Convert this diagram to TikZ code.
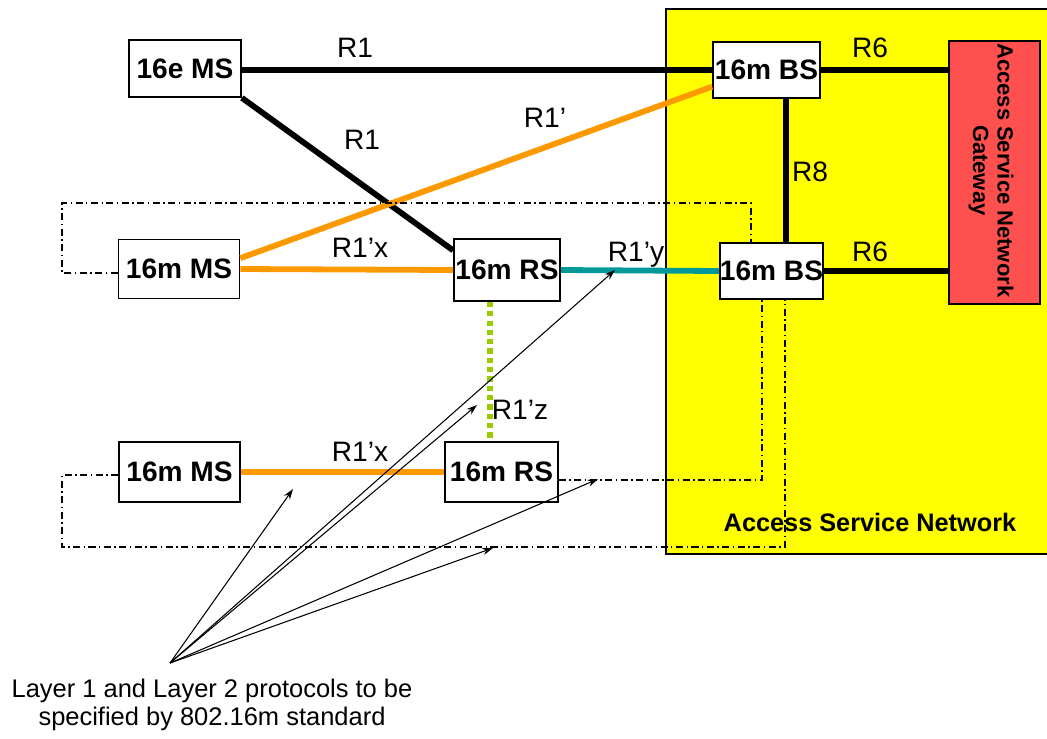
\documentclass[tikz,border=0pt]{standalone}
\usepackage{fontspec}
\setmainfont{Liberation Sans}
\definecolor{asnYellow}{HTML}{FFFF00}
\definecolor{asnRed}{HTML}{FF5050}
\definecolor{linkOrange}{HTML}{FF9900}
\definecolor{linkTeal}{HTML}{009999}
\definecolor{linkGreen}{HTML}{99CC00}
\usetikzlibrary{calc,arrows.meta}

\begin{document}
\begin{tikzpicture}[x=0.02cm, y=-0.02cm,
  station/.style={draw, fill=white, line width=1pt, inner sep=0pt,
    font=\fontsize{16}{18}\selectfont\bfseries},
  blacklink/.style={line width=3.3pt},
  orangelink/.style={line width=3.3pt, draw=linkOrange},
  radiolabel/.style={font=\fontsize{16}{18}\selectfont},
  dashdot/.style={line width=0.7pt, dash pattern=on 4pt off 2pt on 0.8pt off 2pt},
  pointer/.style={line width=0.6pt, -{Stealth[length=6pt,width=4pt]}}]
  \useasboundingbox (0,0) rectangle (1047,738);

  % ASN
  \fill[asnYellow] (666,9) rectangle (1047,554);
  \draw[line width=1pt] (1047,9) -- (666,9) -- (666,554) -- (1047,554);
  \node[font=\fontsize{14.4}{16}\selectfont\bfseries] (asnlabel) at (870,522) {Access Service Network};

  % Stations
  \node[station, minimum width=2.24cm, minimum height=1.14cm] (ems) at (185,68.5) {16e MS};
  \node[station, minimum width=2.14cm, minimum height=1.12cm] (bstop) at (766.5,70) {16m BS};
  \node[station, minimum width=2.42cm, minimum height=1.18cm] (msmid) at (179,269) {16m MS};
  \node[station, minimum width=2.12cm, minimum height=1.24cm] (rsmid) at (507,270) {16m RS};
  \node[station, minimum width=1.94cm, minimum height=1.12cm] (bsmid) at (771.5,271) {16m BS};
  \node[station, minimum width=2.42cm, minimum height=1.20cm] (msbot) at (179.5,472) {16m MS};
  \node[station, minimum width=2.26cm, minimum height=1.20cm] (rsbot) at (501.5,472) {16m RS};

  % Gateway
  \node[draw, fill=asnRed, line width=1pt, minimum width=1.82cm, minimum height=5.26cm] (gw) at (994.5,172.5) {};
  \node[rotate=-90, anchor=west, inner sep=0pt, align=center,
    font=\fontsize{12.5}{14}\selectfont\bfseries] (gwlabel) at (991,43)
    {Access Service Network\\Gateway};

  % Links
  \draw[blacklink] (ems.east |- bstop.west) -- (bstop.west);
  \draw[blacklink] (ems.south east) -- (rsmid.160);
  \draw[orangelink] (msmid.10) -- (bstop.197);
  \draw[blacklink] ([xshift=0.39cm]bstop.south) -- ([xshift=0.39cm]bstop.south |- bsmid.north);
  \draw[blacklink] (bstop.east) -- (bstop.east -| gw.west);
  \draw[blacklink] (bsmid.east) -- (bsmid.east -| gw.west);
  \draw[orangelink] (msmid.east) -- (rsmid.west);
  \draw[line width=3.3pt, draw=linkTeal] (rsmid.east) -- (bsmid.west);
  \draw[line width=3.4pt, draw=linkGreen, dash pattern=on 3pt off 2.3pt]
    ([xshift=-0.34cm]rsmid.south) -- ([xshift=-0.34cm]rsmid.south |- rsbot.north);
  \draw[orangelink] (msbot.east) -- (rsbot.west);

  % Link labels
  \node[radiolabel] (lr1a) at (355,48) {R1};
  \node[radiolabel] (lr1b) at (362,140) {R1};
  \node[radiolabel] (lr1p) at (545,118) {R1’};
  \node[radiolabel] (lr6a) at (870,48) {R6};
  \node[radiolabel] (lr6b) at (870,252) {R6};
  \node[radiolabel] (lr8) at (810,172) {R8};
  \node[radiolabel] (lr1xa) at (360,248) {R1’x};
  \node[radiolabel] (lr1y) at (636,255) {R1’y};
  \node[radiolabel] (lr1z) at (520,410) {R1’z};
  \node[radiolabel] (lr1xb) at (360,452) {R1’x};

  % Dash-dot paths
  \coordinate (la) at (62,203);
  \coordinate (lc) at (62,547);
  \draw[dashdot] ([yshift=-0.08cm]msmid.west) -| (la) -| ([xshift=-0.41cm]bsmid.north);
  \draw[dashdot] ([yshift=-0.16cm]rsbot.east) -| ([xshift=-0.19cm]bsmid.south);
  \draw[dashdot] ([yshift=-0.06cm]msbot.west) -| (lc) -| ([xshift=0.27cm]bsmid.south);

  % Note
  \coordinate (note) at (170,663);
  \coordinate (t1) at (293,489);
  \coordinate (t2) at (477,405);
  \coordinate (t3) at (615,270);
  \coordinate (t4) at (598,479);
  \coordinate (t5) at (493,548);
  \foreach \t in {t1,t2,t3,t4,t5}
    \draw[pointer] (note) -- (\t);
  \node[align=center, font=\fontsize{14.5}{15.5}\selectfont] (notetext) at (212,705)
    {Layer 1 and Layer 2 protocols to be\\specified by 802.16m standard};
\end{tikzpicture}
\end{document}
